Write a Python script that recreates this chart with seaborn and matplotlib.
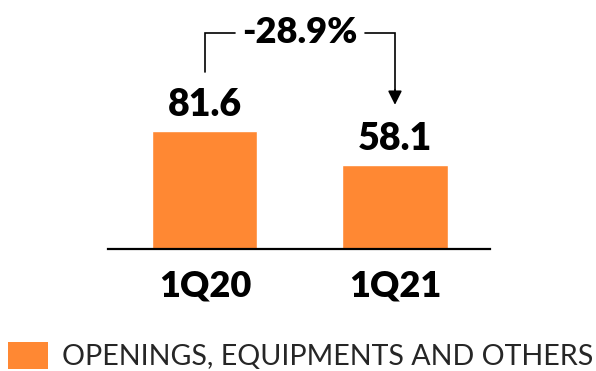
import matplotlib
matplotlib.use("Agg")
import matplotlib.pyplot as plt
from matplotlib.patches import Patch
import seaborn as sns
import pandas as pd

quarters = ["1Q20", "1Q21"]
values = [81.6, 58.1]
change_label = "-28.9%"
series_name = "OPENINGS, EQUIPMENTS AND OTHERS"

orange = "#FF8833"

sns.set_theme(style="white")
plt.rcParams["font.family"] = ["Lato", "DejaVu Sans"]

W, H = 596, 371
fig = plt.figure(figsize=(W / 100, H / 100), dpi=100)
ax = fig.add_axes([108 / W, 122 / H, 382 / W, 249 / H])

df = pd.DataFrame({"quarter": quarters, "value": values})
sns.barplot(data=df, x="quarter", y="value", color=orange, saturation=1,
            width=0.553, ax=ax)

ax.set_xlim(-0.51, 1.5)
ax.set_ylim(0, 172)
ax.set_xlabel("")
ax.set_ylabel("")
ax.set_yticks([])
for side in ["top", "left", "right"]:
    ax.spines[side].set_visible(False)
ax.spines["bottom"].set_color("black")
ax.spines["bottom"].set_linewidth(1.6)
ax.tick_params(axis="x", length=0, pad=14.5)
for lbl in ax.get_xticklabels():
    lbl.set_fontsize(26)
    lbl.set_fontweight("heavy")
    lbl.set_color("black")

# value labels above each bar
for i, v in enumerate(values):
    ax.text(i, v + 10, f"{v:.1f}", ha="center", va="baseline",
            fontsize=27, fontweight="heavy", color="black")

# bracket showing the change between quarters
y_top = 149.4
ax.plot([0, 0, 0.158], [122.4, y_top, y_top], color="black", lw=1.2,
        clip_on=False, solid_joinstyle="miter")
ax.plot([0.842, 1.0, 1.0], [y_top, y_top, 108], color="black", lw=1.2,
        clip_on=False, solid_joinstyle="miter")
ax.annotate("", xy=(1.0, 99.6), xytext=(1.0, 110),
            arrowprops=dict(arrowstyle="-|>,head_width=0.35,head_length=0.7",
                            color="black", lw=1.2, shrinkA=0, shrinkB=0),
            annotation_clip=False)
ax.text(0.497, y_top, change_label, ha="center", va="center",
        fontsize=26, fontweight="heavy", color="black")

handle = Patch(facecolor=orange, edgecolor="none", label=series_name)
fig.legend(handles=[handle], loc="lower left", bbox_to_anchor=(8 / W, 1 / H),
           frameon=False, fontsize=20.6, handlelength=1.4, handleheight=1.05,
           handletextpad=0.48, borderaxespad=0, borderpad=0)

fig.savefig("out.png", dpi=100)
